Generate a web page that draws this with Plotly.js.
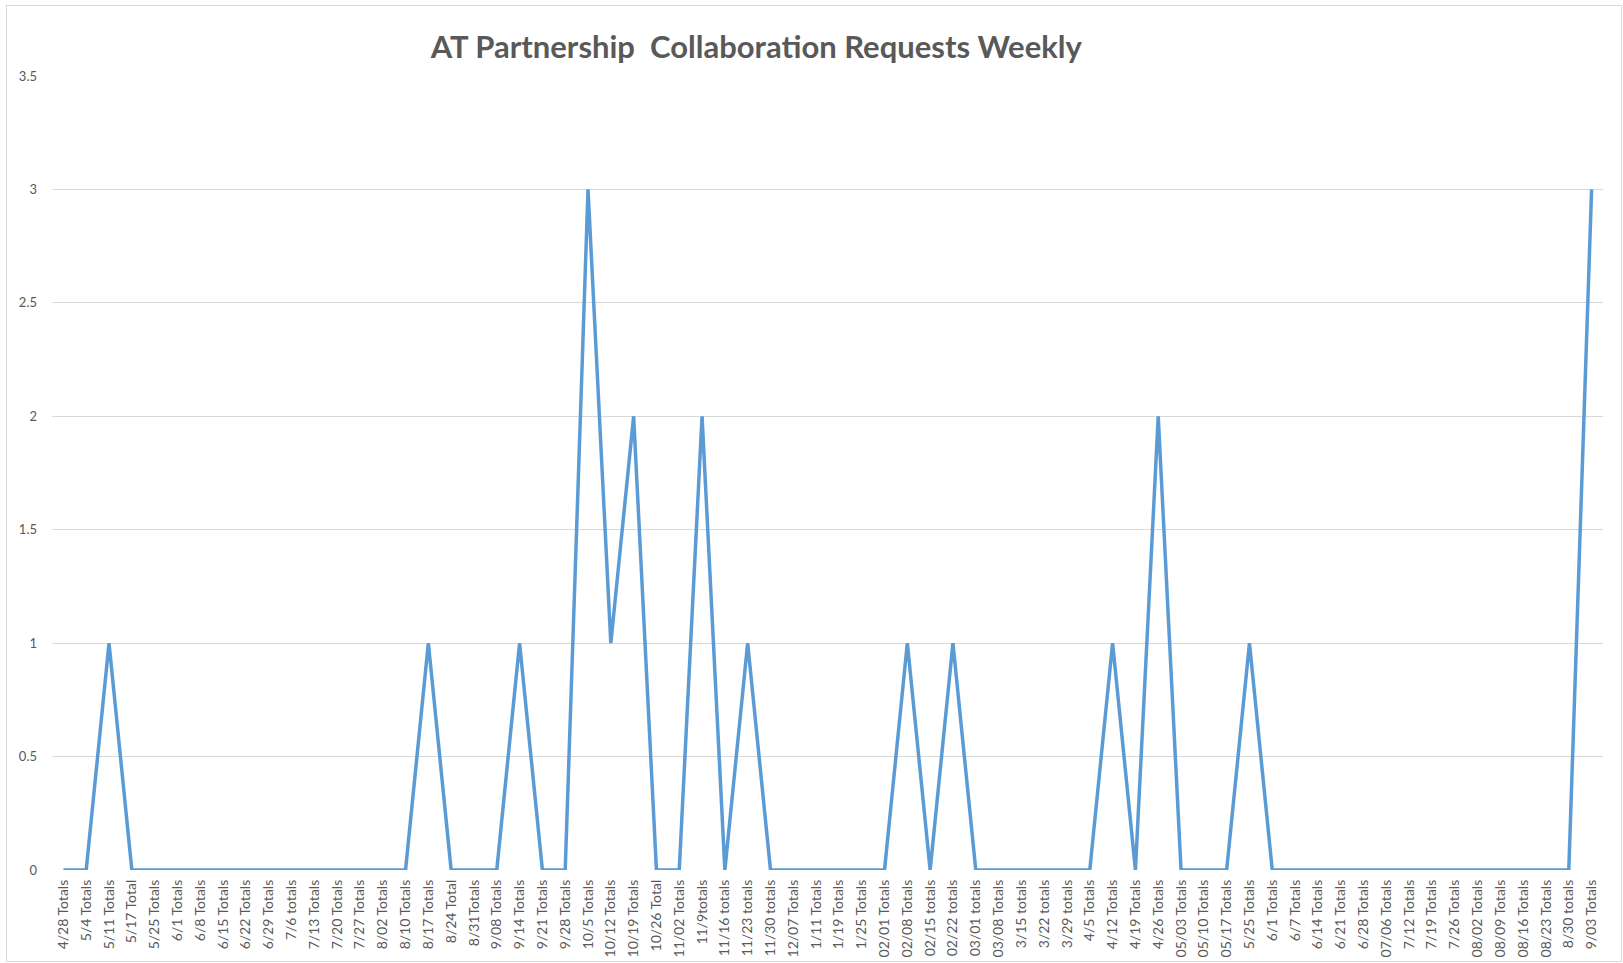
<!DOCTYPE html>
<html>
<head>
<meta charset="utf-8">
<script src="https://cdn.plot.ly/plotly-3.0.1.min.js"></script>
<style>
html,body{margin:0;padding:0;background:#fff;}
#wrap{position:relative;width:1623px;height:963px;}
#chart{width:1623px;height:963px;}
#frame{position:absolute;left:6px;top:5px;width:1614px;height:955px;border:1px solid #d9d9d9;pointer-events:none;}
</style>
</head>
<body>
<div id="wrap"><div id="chart"></div><div id="frame"></div></div>
<script>
const weekLabels = [
 "4/28 Totals","5/4 Totals","5/11 Totals","5/17 Total","5/25 Totals","6/1 Totals","6/8 Totals","6/15 Totals",
 "6/22 Totals","6/29 Totals","7/6 totals","7/13 Totals","7/20 Totals","7/27 Totals","8/02 Totals","8/10 Totals",
 "8/17 Totals","8/24 Total","8/31Totals","9/08 Totals","9/14 Totals","9/21 Totals","9/28 Totals","10/5 Totals",
 "10/12 Totals","10/19 Totals","10/26 Total","11/02 Totals","11/9totals","11/16 totals","11/23 totals","11/30 totals",
 "12/07 Totals","1/11 Totals","1/19 Totals","1/25 Totals","02/01 Totals","02/08 Totals","02/15 totals","02/22 totals",
 "03/01 totals","03/08 Totals","3/15 totals","3/22 totals","3/29 totals","4/5 Totals","4/12 Totals","4/19 Totals",
 "4/26 Totals","05/03 Totals","05/10 Totals","05/17 Totals","5/25 Totals","6/1 Totals","6/7 Totals","6/14 Totals",
 "6/21 Totals","6/28 Totals","07/06 Totals","7/12 Totals","7/19 Totals","7/26 Totals","08/02 Totals","08/09 Totals",
 "08/16 Totals","08/23 Totals","8/30 totals","9/03 Totals"
];
const requests = [
 0,0,1,0,0,0,0,0,
 0,0,0,0,0,0,0,0,
 1,0,0,0,1,0,0,3,
 1,2,0,0,2,0,1,0,
 0,0,0,0,0,1,0,1,
 0,0,0,0,0,0,1,0,
 2,0,0,0,1,0,0,0,
 0,0,0,0,0,0,0,0,
 0,0,0,3
];
const yTicks = [0,0.5,1,1.5,2,2.5,3,3.5];
const yTickText = ["0","0.5","1","1.5","2","2.5","3","3.5"];

const idx = weekLabels.map((_, i) => i);

const trace = {
  x: idx,
  y: requests,
  type: 'scatter',
  mode: 'lines',
  line: {color: '#5B9BD5', width: 3.5},
  hovertemplate: '%{text}: %{y}<extra></extra>',
  text: weekLabels
};

const layout = {
  width: 1623, height: 963,
  margin: {l: 52, r: 20, t: 76, b: 93},
  paper_bgcolor: '#ffffff',
  plot_bgcolor: '#ffffff',
  showlegend: false,
  font: {family: 'Lato, "Liberation Sans", sans-serif', color: '#595959'},
  title: {
    text: 'AT Partnership  Collaboration Requests Weekly',
    x: 0.466, xref: 'container', xanchor: 'center',
    y: 0.951, yref: 'container', yanchor: 'middle',
    font: {family: 'Lato, "Liberation Sans", sans-serif', size: 31, color: '#595959', weight: 'bold'}
  },
  xaxis: {
    range: [-0.5, weekLabels.length - 0.5],
    tickmode: 'array',
    tickvals: idx,
    ticktext: weekLabels,
    tickangle: -90,
    tickfont: {size: 14, color: '#595959'},
    showgrid: false,
    zeroline: false,
    showline: false,
    ticks: '',
    ticklabelstandoff: 6
  },
  yaxis: {
    range: [0, 3.5],
    tickmode: 'array',
    tickvals: yTicks,
    ticktext: yTickText,
    tickfont: {size: 13, color: '#595959'},
    showgrid: true,
    gridcolor: '#d9d9d9',
    gridwidth: 1.3,
    zeroline: false,
    showline: false,
    ticks: '',
    ticklabelstandoff: 14
  }
};

Plotly.newPlot('chart', [trace], layout, {displayModeBar: false, responsive: false});
</script>
</body>
</html>
